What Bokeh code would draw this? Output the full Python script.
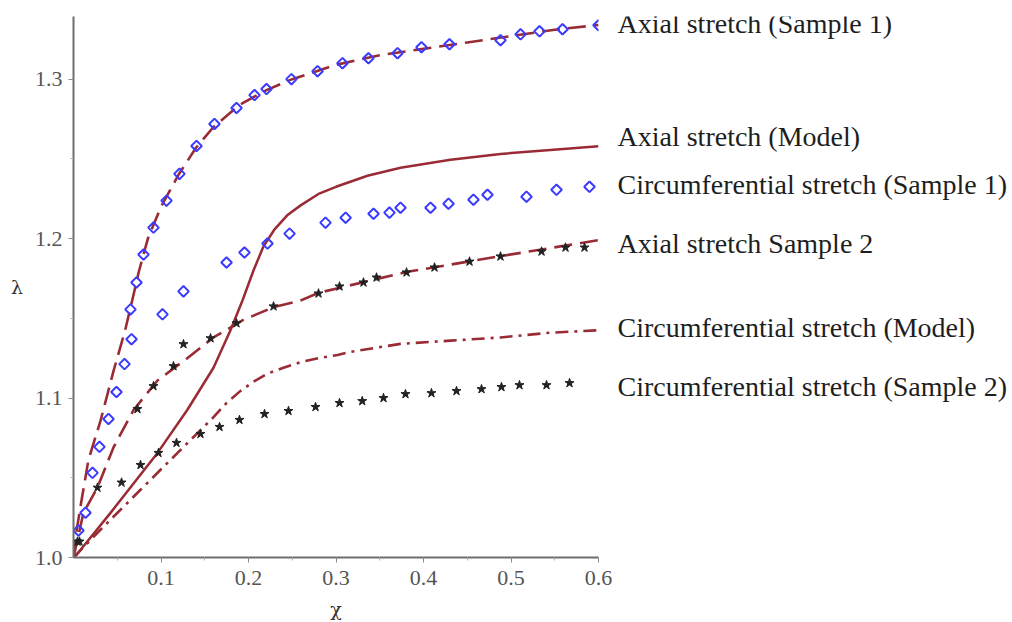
from bokeh.plotting import figure
from bokeh.layouts import row
from bokeh.models import FixedTicker, NumeralTickFormatter, Range1d, ColumnDataSource
from bokeh.core.properties import value
from bokeh.embed import file_html
from bokeh.resources import INLINE

# ---- data ----
# Axial stretch (Sample 1): measured points
ax1_x = [0.0057, 0.0137, 0.0217, 0.0297, 0.040, 0.0491, 0.0583, 0.0663, 0.0651, 0.072, 0.080, 0.0914,
         0.1063, 0.1211, 0.1406, 0.1611, 0.1863, 0.2069, 0.2206, 0.2491, 0.2789, 0.3074, 0.3371,
         0.3703, 0.3977, 0.4297, 0.488, 0.5109, 0.5326, 0.5589, 0.600]
ax1_y = [1.0169, 1.0281, 1.0531, 1.0694, 1.0869, 1.1038, 1.1213, 1.1369, 1.1556, 1.1725, 1.190, 1.2069,
         1.2238, 1.2406, 1.2581, 1.2719, 1.2819, 1.290, 1.2938, 1.300, 1.305, 1.310, 1.3131,
         1.3163, 1.320, 1.3219, 1.3244, 1.3281, 1.330, 1.3313, 1.3338]
# Axial stretch (Sample 1): fitted dashed curve
ax1_fit_x = [0.0, 0.003, 0.008, 0.017, 0.031, 0.046, 0.059, 0.067, 0.075, 0.085, 0.10, 0.12, 0.14,
             0.16, 0.19, 0.22, 0.25, 0.30, 0.35, 0.40, 0.45, 0.50, 0.55, 0.60]
ax1_fit_y = [1.0, 1.015, 1.032, 1.061, 1.086, 1.1175, 1.1425, 1.161, 1.180, 1.200, 1.220, 1.240, 1.257,
             1.270, 1.284, 1.293, 1.300, 1.309, 1.315, 1.319, 1.323, 1.327, 1.331, 1.334]

# Circumferential stretch (Sample 1)
ci1_x = [0.1017, 0.1257, 0.1749, 0.1954, 0.2217, 0.2469, 0.288, 0.311, 0.3429, 0.3611, 0.3737,
         0.408, 0.4286, 0.4571, 0.4731, 0.5177, 0.552, 0.5897]
ci1_y = [1.1525, 1.1669, 1.185, 1.1913, 1.1969, 1.2031, 1.210, 1.2131, 1.2156, 1.2163, 1.2194,
         1.2194, 1.2219, 1.2244, 1.2275, 1.2263, 1.2306, 1.2325]

# Axial stretch Sample 2: measured points and fitted dashed curve
ax2_x = [0.0069, 0.0274, 0.0731, 0.0914, 0.1143, 0.1257, 0.1566, 0.1863, 0.2286, 0.280, 0.304,
         0.3314, 0.3463, 0.3806, 0.4126, 0.4526, 0.488, 0.5349, 0.5623, 0.584]
ax2_y = [1.010, 1.0438, 1.0931, 1.1075, 1.120, 1.1338, 1.1375, 1.1469, 1.1575, 1.1656, 1.170,
         1.1725, 1.1756, 1.1788, 1.1819, 1.1856, 1.1888, 1.1919, 1.1944, 1.1944]
ax2_fit_x = [0.0, 0.0114, 0.0274, 0.0457, 0.0686, 0.096, 0.13, 0.16, 0.194, 0.2286, 0.259, 0.28,
             0.38, 0.488, 0.60]
ax2_fit_y = [1.0, 1.028, 1.044, 1.069, 1.0925, 1.111, 1.125, 1.138, 1.149, 1.157, 1.161, 1.166,
             1.179, 1.189, 1.199]

# Circumferential stretch (Sample 2)
ci2_x = [0.0046, 0.0549, 0.0766, 0.0971, 0.1177, 0.1451, 0.1669, 0.1897, 0.2183, 0.2457, 0.2766,
         0.304, 0.330, 0.3543, 0.3794, 0.4091, 0.4377, 0.4663, 0.4891, 0.5097, 0.5406, 0.5669]
ci2_y = [1.010, 1.047, 1.058, 1.0656, 1.0719, 1.0775, 1.0819, 1.0863, 1.090, 1.0919, 1.0944,
         1.0969, 1.0981, 1.100, 1.1025, 1.1031, 1.1044, 1.1056, 1.1069, 1.1081, 1.1081, 1.1094]

# Axial stretch (Model): solid curve
axm_x = [0.0, 0.004, 0.0423, 0.096, 0.13, 0.16, 0.1794, 0.193, 0.2057, 0.217, 0.230, 0.245,
         0.260, 0.280, 0.300, 0.336, 0.3737, 0.4309, 0.488, 0.545, 0.60]
axm_y = [1.0, 1.002, 1.028, 1.0656, 1.0925, 1.119, 1.1425, 1.161, 1.180, 1.195, 1.206, 1.215,
         1.221, 1.228, 1.2325, 1.2394, 1.2444, 1.2494, 1.2531, 1.2556, 1.258]

# Circumferential stretch (Model): dash-dot curve
cim_x = [0.0, 0.031, 0.0766, 0.1189, 0.16, 0.175, 0.1909, 0.205, 0.2217, 0.240, 0.2594, 0.280,
         0.3017, 0.3166, 0.3737, 0.4309, 0.488, 0.545, 0.60]
cim_y = [1.0, 1.0175, 1.0425, 1.0656, 1.088, 1.097, 1.1045, 1.110, 1.1153, 1.119, 1.1225, 1.125,
         1.127, 1.129, 1.134, 1.136, 1.138, 1.141, 1.1425]

x_ticks = [0.1, 0.2, 0.3, 0.4, 0.5, 0.6]
x_minor = [0.05, 0.15, 0.25, 0.35, 0.45, 0.55]
y_ticks = [1.0, 1.1, 1.2, 1.3]
y_minor = [1.05, 1.15, 1.25]

labels = ["Axial stretch (Sample 1)", "Axial stretch (Model)", "Circumferential stretch (Sample 1)",
          "Axial stretch Sample 2", "Circumferential stretch (Model)", "Circumferential stretch (Sample 2)"]
label_y = [1.335, 1.264, 1.234, 1.197, 1.1445, 1.107]

RED = "#9a2b35"
BLUE = "#3b3bff"
SERIF = "Liberation Serif"

LEFT_W = 615
yr = Range1d(1.0, 1.3393)

p = figure(width=LEFT_W, height=622, output_backend="svg", toolbar_location=None,
           x_range=Range1d(0, 0.6), y_range=yr,
           min_border_left=73, min_border_right=LEFT_W - 598, min_border_top=16, min_border_bottom=63)
p.outline_line_color = None
p.xgrid.visible = False
p.ygrid.visible = False
p.background_fill_color = "white"
p.border_fill_color = "white"

for ax, tks, mn in ((p.xaxis[0], x_ticks, x_minor), (p.yaxis[0], y_ticks, y_minor)):
    ax.ticker = FixedTicker(ticks=tks, minor_ticks=mn)
    ax.formatter = NumeralTickFormatter(format="0.0")
    ax.axis_line_color = "#6e6e6e"
    ax.axis_line_width = 2
    ax.major_tick_line_color = "#8a8a8a"
    ax.minor_tick_line_color = "#b0b0b0"
    ax.major_tick_out = 5
    ax.major_tick_in = 0
    ax.minor_tick_out = 3
    ax.minor_tick_in = 0
    ax.major_label_text_font = SERIF
    ax.major_label_text_font_size = "22px"
    ax.major_label_text_color = "#555555"
    ax.axis_label_text_font = "DejaVu Serif"
    ax.axis_label_text_font_size = "19px"
    ax.axis_label_text_font_style = "normal"
    ax.axis_label_text_color = "#333333"

p.xaxis.axis_label = "χ"
p.yaxis.axis_label = "λ"
p.xaxis.major_label_standoff = 8
p.yaxis.major_label_standoff = 6
p.xaxis.axis_label_standoff = 10
p.yaxis.axis_label_standoff = 9
p.yaxis.axis_label_orientation = "horizontal"

# model curves and fits
p.line(axm_x, axm_y, line_color=RED, line_width=2.5)
p.line(cim_x, cim_y, line_color=RED, line_width=2.6, line_dash="13 6 3 6")
p.line(ax1_fit_x, ax1_fit_y, line_color=RED, line_width=2.6, line_dash="18 8")
p.line(ax2_fit_x, ax2_fit_y, line_color=RED, line_width=2.6, line_dash="18 8")

# measured points
p.scatter(ax1_x, ax1_y, marker="square", angle=0.7854, size=7.5, fill_color=None,
          line_color=BLUE, line_width=2)
p.scatter(ci1_x, ci1_y, marker="square", angle=0.7854, size=7.5, fill_color=None,
          line_color=BLUE, line_width=2)
p.scatter(ax2_x, ax2_y, marker="star", size=9.5, fill_color="#222222", line_color="#222222")
p.scatter(ci2_x, ci2_y, marker="star", size=9.5, fill_color="#222222", line_color="#222222")

# right-hand curve labels in a companion panel sharing the y scale
RIGHT_W = 1012 - LEFT_W
q = figure(width=RIGHT_W, height=622, output_backend="svg", toolbar_location=None,
           x_range=Range1d(0, RIGHT_W), y_range=yr,
           x_axis_location=None, y_axis_location=None,
           min_border_left=0, min_border_right=0, min_border_top=16, min_border_bottom=63)
q.outline_line_color = None
q.xgrid.visible = False
q.ygrid.visible = False
q.border_fill_color = "white"

src = ColumnDataSource(dict(x=[617 - LEFT_W] * len(labels), y=label_y, text=labels))
q.text(x="x", y="y", text="text", source=src, text_font=value(SERIF), text_font_size="28px",
       text_color="#1e1e1e", text_baseline="middle", text_align="left")

layout = row(p, q, spacing=0)
open("out.html", "w").write(file_html(layout, INLINE))
